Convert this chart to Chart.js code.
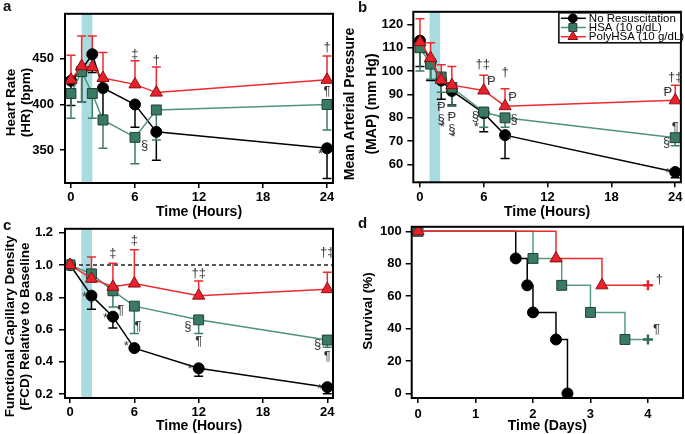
<!DOCTYPE html>
<html>
<head>
<meta charset="utf-8">
<script src="https://cdn.jsdelivr.net/npm/chart.js@4.4.1/dist/chart.umd.min.js"></script>
<style>
  body { margin: 0; background: #fff; width: 685px; height: 434px; position: relative; overflow: hidden;
         font-family: 'Liberation Sans', Arial, sans-serif; }
  .panel { position: absolute; }
  .letter { position: absolute; font-weight: bold; font-size: 15px; line-height: 15px; color: #111; }
</style>
</head>
<body>
<div class="panel" style="left:0;top:0;width:340px;height:222px"><canvas id="hrChart"></canvas></div>
<div class="panel" style="left:340px;top:0;width:345px;height:222px"><canvas id="mapChart"></canvas></div>
<div class="panel" style="left:0;top:215px;width:340px;height:219px"><canvas id="fcdChart"></canvas></div>
<div class="panel" style="left:340px;top:215px;width:345px;height:219px"><canvas id="survChart"></canvas></div>
<div class="letter" style="left:3px;top:-2px">a</div>
<div class="letter" style="left:358px;top:-1px">b</div>
<div class="letter" style="left:3px;top:217px">c</div>
<div class="letter" style="left:358px;top:215px">d</div>

<script>
// ---------- data ----------
const seriesNames = ['No Resuscitation', 'HSA (10 g/dL)', 'PolyHSA (10 g/dL)'];

// (a) heart rate, bpm
const hrHours = [0, 1, 2, 3, 6, 8, 24];
const hrNone = [426, 438, 455, 418, 400, 370, 352];
const hrHsa = [412, 436, 412, 383, 364, 394, 400];
const hrPoly = [427, 442, 441, 429, 422, 413, 427];
const hrNoneErr = [27, 35, 20, 30, 25, 31, 33];
const hrHsaErr = [27, 33, 27, 31, 29, 33, 28];
const hrPolyErr = [27, 33, 34, 28, 26, 28, 26];
const hrTicks = [350, 400, 450];
const hrMarks = [[6, 455, '‡'], [8, 448, '†'], [24, 462, '†'], [24, 414, '¶'], [6.9, 355, '§'], [23.4, 345, '*']];

// (b) mean arterial pressure, mm Hg
const mapHours = [0, 1, 2, 3, 6, 8, 24];
const mapNone = [113, 104, 96, 91.5, 82, 72.6, 56.8];
const mapHsa = [110, 103, 97.5, 93, 82.5, 80, 71.5];
const mapPoly = [112.4, 105.6, 96.2, 94, 91.7, 85, 87.5];
const mapNoneErr = [11, 8, 8, 6, 8, 10, 2.5];
const mapHsaErr = [10, 6.5, 6.5, 8, 6.5, 4, 3.5];
const mapPolyErr = [10, 6.5, 6.5, 8, 6.5, 7.5, 6.5];
const mapTicks = [60, 70, 80, 90, 100, 110, 120];
const mapMarks = [
  [5.9, 102.8, '†‡'], [6.7, 95.7, 'Ᵽ'], [8, 99.6, '†'], [8.7, 88.6, 'Ᵽ'],
  [24, 97.4, '†‡'], [23.3, 91, 'Ᵽ'], [24, 75.9, '¶'], [23.2, 69.5, '§'], [23.3, 56, '*'],
  [8.85, 79.4, '§'], [8.4, 70.2, '*'], [5.2, 80.8, '§'], [5.3, 75.9, '*'],
  [2, 84.4, 'Ᵽ'], [2, 79.4, '§'], [2.1, 75.9, '*'],
  [3, 80.1, 'Ᵽ'], [3, 75.2, '§'], [3.1, 71.6, '*']
];

// (c) functional capillary density relative to baseline
const fcdHours = [0, 2, 4, 6, 12, 24];
const fcdNone = [1.0, 0.81, 0.68, 0.485, 0.36, 0.243];
const fcdHsa = [1.0, 0.945, 0.84, 0.745, 0.66, 0.535];
const fcdPoly = [1.0, 0.915, 0.865, 0.885, 0.81, 0.85];
const fcdNoneErr = [0, 0.085, 0.07, 0.005, 0.05, 0.04];
const fcdHsaErr = [0, 0.05, 0.10, 0.17, 0.085, 0.045];
const fcdPolyErr = [0, 0.135, 0.145, 0.21, 0.09, 0.105];
const fcdTicks = [0.2, 0.4, 0.6, 0.8, 1.0, 1.2];
const fcdMarks = [
  [4, 1.07, '‡'], [6, 1.15, '‡'], [12, 0.95, '†‡'], [24, 1.08, '†‡'],
  [1.35, 0.80, '*'], [4.7, 0.72, '¶'], [3.3, 0.67, '*'], [6.35, 0.62, '¶'], [5.25, 0.495, '*'],
  [11.0, 0.62, '§'], [12, 0.525, '¶'], [11.2, 0.35, '*'],
  [23.1, 0.505, '§'], [24, 0.435, '¶'], [23.3, 0.23, '*']
];

// (d) survival, %
const survNoneDay = [0, 1.7, 1.9, 2.0, 2.4, 2.6];
const survNonePct = [100, 83.3, 66.7, 50, 33.3, 0];
const survHsaDay = [0, 2.0, 2.5, 3.0, 3.6, 4.0];
const survHsaPct = [100, 83.3, 66.7, 50, 33.3, 33.3];
const survPolyDay = [0, 2.4, 3.2, 4.0];
const survPolyPct = [100, 83.3, 66.7, 66.7];
const survTicks = [0, 20, 40, 60, 80, 100];
const survMarks = [[4.2, 70.6, '†'], [4.15, 39.8, '¶']];

const hourTicks = [0, 6, 12, 18, 24];
const dayTicks = [0, 1, 2, 3, 4];

// ---------- styles ----------
const FAMILY = "'Liberation Sans', Arial, sans-serif";
const tickFont = { family: FAMILY, size: 13, weight: 'bold' };
const titleFont = { family: FAMILY, size: 14, weight: 'bold', lineHeight: 1.12 };

const noneStyle = {
  label: seriesNames[0], borderColor: '#000', errColor: '#000',
  pointBackgroundColor: '#000', pointBorderColor: '#000', pointStyle: 'circle',
  pointRadius: 5.5, pointBorderWidth: 1, borderWidth: 1.5, order: 2
};
const hsaStyle = {
  label: seriesNames[1], borderColor: '#4f9479', errColor: '#3d7d66',
  pointBackgroundColor: '#3b7a62', pointBorderColor: '#1d4034', pointStyle: 'rect',
  pointRadius: 7, pointBorderWidth: 1, borderWidth: 1.5, order: 1
};
const polyStyle = {
  label: seriesNames[2], borderColor: '#f02a2e', errColor: '#ee2a2e',
  pointBackgroundColor: '#e8212b', pointBorderColor: '#8c0f14', pointStyle: 'triangle',
  pointRadius: 7, pointBorderWidth: 1, borderWidth: 1.5, order: 0
};

function series(xs, ys, errs, dir, style) {
  return Object.assign({
    data: xs.map((x, i) => ({ x: x, y: ys[i] })),
    errors: errs,
    errDir: dir,
    tension: 0
  }, style);
}

// error bars, shaded band, frame, symbols, y titles, legend
const decor = {
  id: 'decor',
  beforeDatasetsDraw(chart, args, o) {
    const { ctx, chartArea: a } = chart;
    const xs = chart.scales.x, ys = chart.scales.y;
    ctx.save();
    if (o.band) {
      const x0 = xs.getPixelForValue(o.band[0]);
      const x1 = xs.getPixelForValue(o.band[1]);
      ctx.fillStyle = '#a8dce0';
      ctx.fillRect(x0, a.top, x1 - x0, a.bottom - a.top);
    }
    if (o.refLine !== undefined) {
      const py = ys.getPixelForValue(o.refLine);
      ctx.setLineDash([4, 3]);
      ctx.strokeStyle = '#222';
      ctx.lineWidth = 1.5;
      ctx.beginPath();
      ctx.moveTo(a.left, py);
      ctx.lineTo(a.right, py);
      ctx.stroke();
      ctx.setLineDash([]);
    }
    chart.data.datasets.forEach(ds => {
      if (!ds.errors) return;
      ctx.strokeStyle = ds.errColor || ds.borderColor;
      ctx.lineWidth = 1.5;
      ds.data.forEach((p, i) => {
        const e = ds.errors[i];
        if (!e) return;
        const px = xs.getPixelForValue(p.x);
        const y0 = ys.getPixelForValue(p.y);
        const y1 = ys.getPixelForValue(p.y + ds.errDir * e);
        ctx.beginPath();
        ctx.moveTo(px, y0);
        ctx.lineTo(px, y1);
        ctx.moveTo(px - 4.5, y1);
        ctx.lineTo(px + 4.5, y1);
        ctx.stroke();
      });
    });
    ctx.restore();
  },
  afterDatasetsDraw(chart, args, o) {
    const { ctx, chartArea: a } = chart;
    const xs = chart.scales.x, ys = chart.scales.y;
    ctx.save();
    ctx.lineWidth = 2;
    ctx.strokeStyle = '#000';
    ctx.strokeRect(a.left, a.top, a.right - a.left, a.bottom - a.top);

    if (o.marks) {
      ctx.fillStyle = '#333';
      ctx.font = '13px ' + FAMILY;
      ctx.textAlign = 'center';
      ctx.textBaseline = 'middle';
      o.marks.forEach(m => {
        ctx.fillText(m[2], xs.getPixelForValue(m[0]), ys.getPixelForValue(m[1]));
      });
    }

    // y title, rotated, one or two lines
    if (o.yTitle) {
      ctx.fillStyle = '#000';
      ctx.font = 'bold ' + o.yTitle.size + 'px ' + FAMILY;
      ctx.textAlign = 'center';
      ctx.textBaseline = 'middle';
      o.yTitle.lines.forEach((line, i) => {
        ctx.save();
        ctx.translate(o.yTitle.x[i], o.yTitle.y);
        ctx.rotate(-Math.PI / 2);
        ctx.fillText(line, 0, 0);
        ctx.restore();
      });
    }

    if (o.legend) {
      const w = 122, h = 30;
      const lx = a.right - w, ly = a.top + 1;
      ctx.fillStyle = '#fff';
      ctx.fillRect(lx, ly, w, h);
      ctx.lineWidth = 1.5;
      ctx.strokeStyle = '#000';
      ctx.strokeRect(lx, ly, w, h);
      ctx.font = '11.5px ' + FAMILY;
      ctx.textAlign = 'left';
      ctx.textBaseline = 'middle';
      chart.data.datasets.forEach((ds, row) => {
        const cy = ly + 5.5 + row * 9.2;
        ctx.strokeStyle = ds.borderColor;
        ctx.lineWidth = 1.5;
        ctx.beginPath();
        ctx.moveTo(lx + 2, cy);
        ctx.lineTo(lx + 27, cy);
        ctx.stroke();
        ctx.fillStyle = ds.pointBackgroundColor;
        ctx.strokeStyle = ds.pointBorderColor;
        ctx.lineWidth = 1;
        Chart.helpers.drawPoint(ctx, {
          pointStyle: ds.pointStyle, radius: ds.pointRadius * 0.8, rotation: 0, borderWidth: 1
        }, lx + 14, cy);
        ctx.fillStyle = '#000';
        ctx.fillText(ds.label, lx + 30, cy + 0.5);
      });
    }
    ctx.restore();
  }
};

function makeScales(o) {
  return {
    x: {
      type: 'linear', min: o.xMin, max: o.xMax,
      afterBuildTicks: s => { s.ticks = o.xTicks.map(v => ({ value: v })); },
      afterFit: s => { s.height = o.xHeight; },
      grid: { drawOnChartArea: false, color: '#000', lineWidth: 1.5, tickLength: 5 },
      border: { display: false },
      ticks: { color: '#000', font: tickFont, padding: o.xTickPad, maxRotation: 0 },
      title: { display: true, text: o.xTitle, color: '#000', font: titleFont,
               padding: { top: 0, bottom: o.xTitlePad } }
    },
    y: {
      type: 'linear', min: o.yMin, max: o.yMax,
      afterBuildTicks: s => { s.ticks = o.yTicks.map(v => ({ value: v })); },
      afterFit: s => { s.width = o.yWidth; },
      grid: { drawOnChartArea: false, color: '#000', lineWidth: 1.5, tickLength: o.yTickLen },
      border: { display: false },
      ticks: { color: '#000', font: tickFont, padding: o.yTickPad, callback: o.yFormat || (v => v) },
      title: { display: false }
    }
  };
}

function makeChart(id, datasets, scaleOpts, padding, decorOpts) {
  return new Chart(document.getElementById(id), {
    type: 'line',
    data: { datasets: datasets },
    options: {
      responsive: true,
      maintainAspectRatio: false,
      animation: false,
      layout: { padding: padding, autoPadding: false },
      scales: makeScales(scaleOpts),
      plugins: {
        legend: { display: false },
        tooltip: { enabled: false },
        decor: decorOpts
      }
    },
    plugins: [decor]
  });
}

// (a) Heart rate
makeChart('hrChart', [
  series(hrHours, hrNone, hrNoneErr, -1, noneStyle),
  series(hrHours, hrHsa, hrHsaErr, -1, hsaStyle),
  series(hrHours, hrPoly, hrPolyErr, 1, polyStyle)
], {
  xMin: -0.56, xMax: 24.56, xTicks: hourTicks, xHeight: 39, xTickPad: 2, xTitle: 'Time (Hours)', xTitlePad: 1.6,
  yMin: 314, yMax: 499.3, yTicks: hrTicks, yWidth: 65, yTickLen: 5, yTickPad: 6
}, { left: 0, top: 10, right: 7, bottom: 0 }, {
  band: [1, 2], marks: hrMarks,
  yTitle: { lines: ['Heart Rate', '(HR) (bpm)'], size: 13.5, x: [11.7, 26.7], y: 102.5 }
});

// (b) Mean arterial pressure
makeChart('mapChart', [
  series(mapHours, mapNone, mapNoneErr, -1, noneStyle),
  series(mapHours, mapHsa, mapHsaErr, -1, hsaStyle),
  series(mapHours, mapPoly, mapPolyErr, 1, polyStyle)
], {
  xMin: -0.625, xMax: 24.53, xTicks: hourTicks, xHeight: 39.7, xTickPad: 2.5, xTitle: 'Time (Hours)', xTitlePad: 1.6,
  yMin: 52.4, yMax: 125.4, yTicks: mapTicks, yWidth: 73.3, yTickLen: 6, yTickPad: 4
}, { left: 0, top: 10, right: 2, bottom: 0 }, {
  band: [0.9, 1.9], marks: mapMarks, legend: true,
  yTitle: { lines: ['Mean Arterial Pressure', '(MAP) (mm Hg)'], size: 14, x: [10, 31.7], y: 104 }
});

// (c) Functional capillary density
makeChart('fcdChart', [
  series(fcdHours, fcdNone, fcdNoneErr, -1, noneStyle),
  series(fcdHours, fcdHsa, fcdHsaErr, -1, hsaStyle),
  series(fcdHours, fcdPoly, fcdPolyErr, 1, polyStyle)
], {
  xMin: -0.47, xMax: 24.53, xTicks: hourTicks, xHeight: 36, xTickPad: 1.5, xTitle: 'Time (Hours)', xTitlePad: 0,
  yMin: 0.176, yMax: 1.224, yTicks: fcdTicks, yWidth: 65, yTickLen: 6, yTickPad: 6, yFormat: v => v.toFixed(1)
}, { left: 0, top: 10, right: 7, bottom: 0 }, {
  band: [1.05, 2.05], refLine: 1.0, marks: fcdMarks,
  yTitle: { lines: ['Functional Capillary Density', '(FCD) Relative to Baseline'], size: 13.5, x: [10, 25.5], y: 111.5 }
});

// (d) Survival
const survNoneStyle = Object.assign({}, noneStyle, { stepped: 'before', pointRadius: [0, 5.5, 5.5, 5.5, 5.5, 5.5] });
const survHsaStyle = Object.assign({}, hsaStyle, {
  stepped: 'before', borderColor: '#5a9c80',
  pointStyle: ['rect', 'rect', 'rect', 'rect', 'rect', 'cross'],
  pointRadius: [7, 7, 7, 7, 7, 5], pointBorderWidth: [1, 1, 1, 1, 1, 2.5],
  pointBorderColor: ['#1d4034', '#1d4034', '#1d4034', '#1d4034', '#1d4034', '#2f6b55']
});
const survPolyStyle = Object.assign({}, polyStyle, {
  stepped: 'before',
  pointStyle: ['triangle', 'triangle', 'triangle', 'cross'],
  pointRadius: [7, 7, 7, 5], pointBorderWidth: [1, 1, 1, 2.5],
  pointBorderColor: ['#8c0f14', '#8c0f14', '#8c0f14', '#e8212b']
});

makeChart('survChart', [
  series(survNoneDay, survNonePct, null, 0, survNoneStyle),
  series(survHsaDay, survHsaPct, null, 0, survHsaStyle),
  series(survPolyDay, survPolyPct, null, 0, survPolyStyle)
], {
  xMin: -0.11, xMax: 4.61, xTicks: dayTicks, xHeight: 36, xTickPad: 3.5, xTitle: 'Time (Days)', xTitlePad: 0,
  yMin: -2.8, yMax: 102.8, yTicks: survTicks, yWidth: 71.7, yTickLen: 6, yTickPad: 4
}, { left: 0, top: 6, right: 2, bottom: 0 }, {
  marks: survMarks,
  yTitle: { lines: ['Survival (%)'], size: 13.5, x: [28.3], y: 96 }
});
</script>
</body>
</html>
